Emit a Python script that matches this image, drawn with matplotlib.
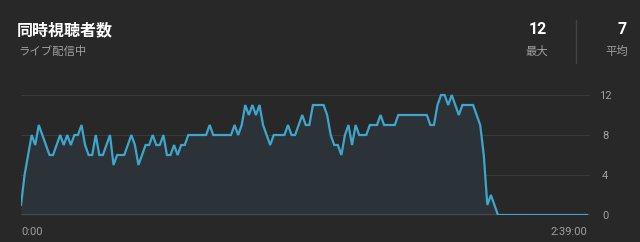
import matplotlib
matplotlib.use('Agg')
from matplotlib import pyplot as plt

plt.rcParams['font.family'] = ['Roboto', 'Noto Sans CJK JP', 'DejaVu Sans']

# concurrent viewers, one value per minute (0:00 .. 2:39:00)
viewers = [
    1, 4, 6, 8, 7, 9, 8, 7, 6, 6,
    7, 8, 7, 8, 7, 8, 8, 9, 7, 6,
    6, 8, 6, 6, 7, 8, 5, 6, 6, 6,
    7, 8, 7, 5, 6, 7, 7, 8, 7, 7,
    8, 6, 6, 7, 6, 7, 7, 8, 8, 8,
    8, 8, 8, 9, 8, 8, 8, 8, 8, 8,
    9, 8, 9, 11, 10, 11, 10, 11, 9, 8,
    7, 8, 8, 8, 8, 9, 8, 8, 9, 10,
    9, 9, 11, 11, 11, 11, 10, 8, 7, 7,
    6, 8, 9, 7, 9, 8, 8, 8, 9, 9,
    9, 10, 9, 9, 9, 9, 10, 10, 10, 10,
    10, 10, 10, 10, 10, 9, 9, 11, 12, 12,
    11, 12, 11, 10, 11, 11, 11, 11, 10, 9,
    6, 1, 2, 1, 0, 0, 0, 0, 0, 0,
    0, 0, 0, 0, 0, 0, 0, 0, 0, 0,
    0, 0, 0, 0, 0, 0, 0, 0, 0, 0,
]
minutes = list(range(len(viewers)))
y_ticks = [0, 4, 8, 12]
x_labels = ['0:00', '2:39:00']

title = '同時視聴者数'
subtitle = 'ライブ配信中'
stat_values = ['12', '7']
stat_names = ['最大', '平均']

bg = '#282828'
line_color = '#3ea6cc'
fill_color = '#2c3338'
grey = '#a0a0a0'

W, H = 640, 242
fig = plt.figure(figsize=(W / 100, H / 100), dpi=100, facecolor=bg)

# axes: x 21..590 px, y 0 at 215 px, 10 px per viewer
ax = fig.add_axes([21 / W, (H - 215) / H, 569 / W, 130 / H])
ax.set_facecolor(bg)
ax.set_xlim(0, 159 * 569 / 566)
ax.set_ylim(0, 13)

for v in y_ticks[1:]:
    ax.axhline(v, color='#3a3a3a', lw=0.8, zorder=1)
ax.axhline(0, color='#b0b0b0', lw=1.0, zorder=3)

ax.fill_between(minutes, viewers, 0, color=fill_color, zorder=2, lw=0)
ax.plot(minutes, viewers, color=line_color, lw=1.6, zorder=4,
        solid_joinstyle='miter')

for s in ax.spines.values():
    s.set_visible(False)

ax.yaxis.tick_right()
ax.set_yticks(y_ticks)
ax.set_yticklabels([str(v) for v in y_ticks])
ax.tick_params(axis='y', length=0, pad=11, labelsize=8, labelcolor=grey)
for lbl in ax.get_yticklabels():
    lbl.set_horizontalalignment('center')

ax.set_xticks([0, 159])
ax.set_xticklabels(x_labels)
ax.tick_params(axis='x', length=0, pad=8.5, labelsize=8, labelcolor=grey)
xl = ax.get_xticklabels()
xl[0].set_horizontalalignment('left')
xl[1].set_horizontalalignment('right')

# header
fig.text(17 / W, 1 - 30 / H, title, color='white', fontsize=11.5,
         fontweight='bold', va='center', ha='left')
fig.text(18 / W, 1 - 51 / H, subtitle, color=grey, fontsize=8.2,
         va='center', ha='left')

stat_x = [547, 627]
for x, val, name in zip(stat_x, stat_values, stat_names):
    fig.text(x / W, 1 - 30 / H, val, color='white', fontsize=11.5,
             fontweight='bold', va='center', ha='right')
    fig.text((x + 1) / W, 1 - 51 / H, name, color=grey, fontsize=8.2,
             va='center', ha='right')

fig.add_artist(plt.Line2D([576 / W, 576 / W], [1 - 20 / H, 1 - 63 / H],
                          color='#444444', lw=1))

fig.savefig('out.png', dpi=100, facecolor=bg)
